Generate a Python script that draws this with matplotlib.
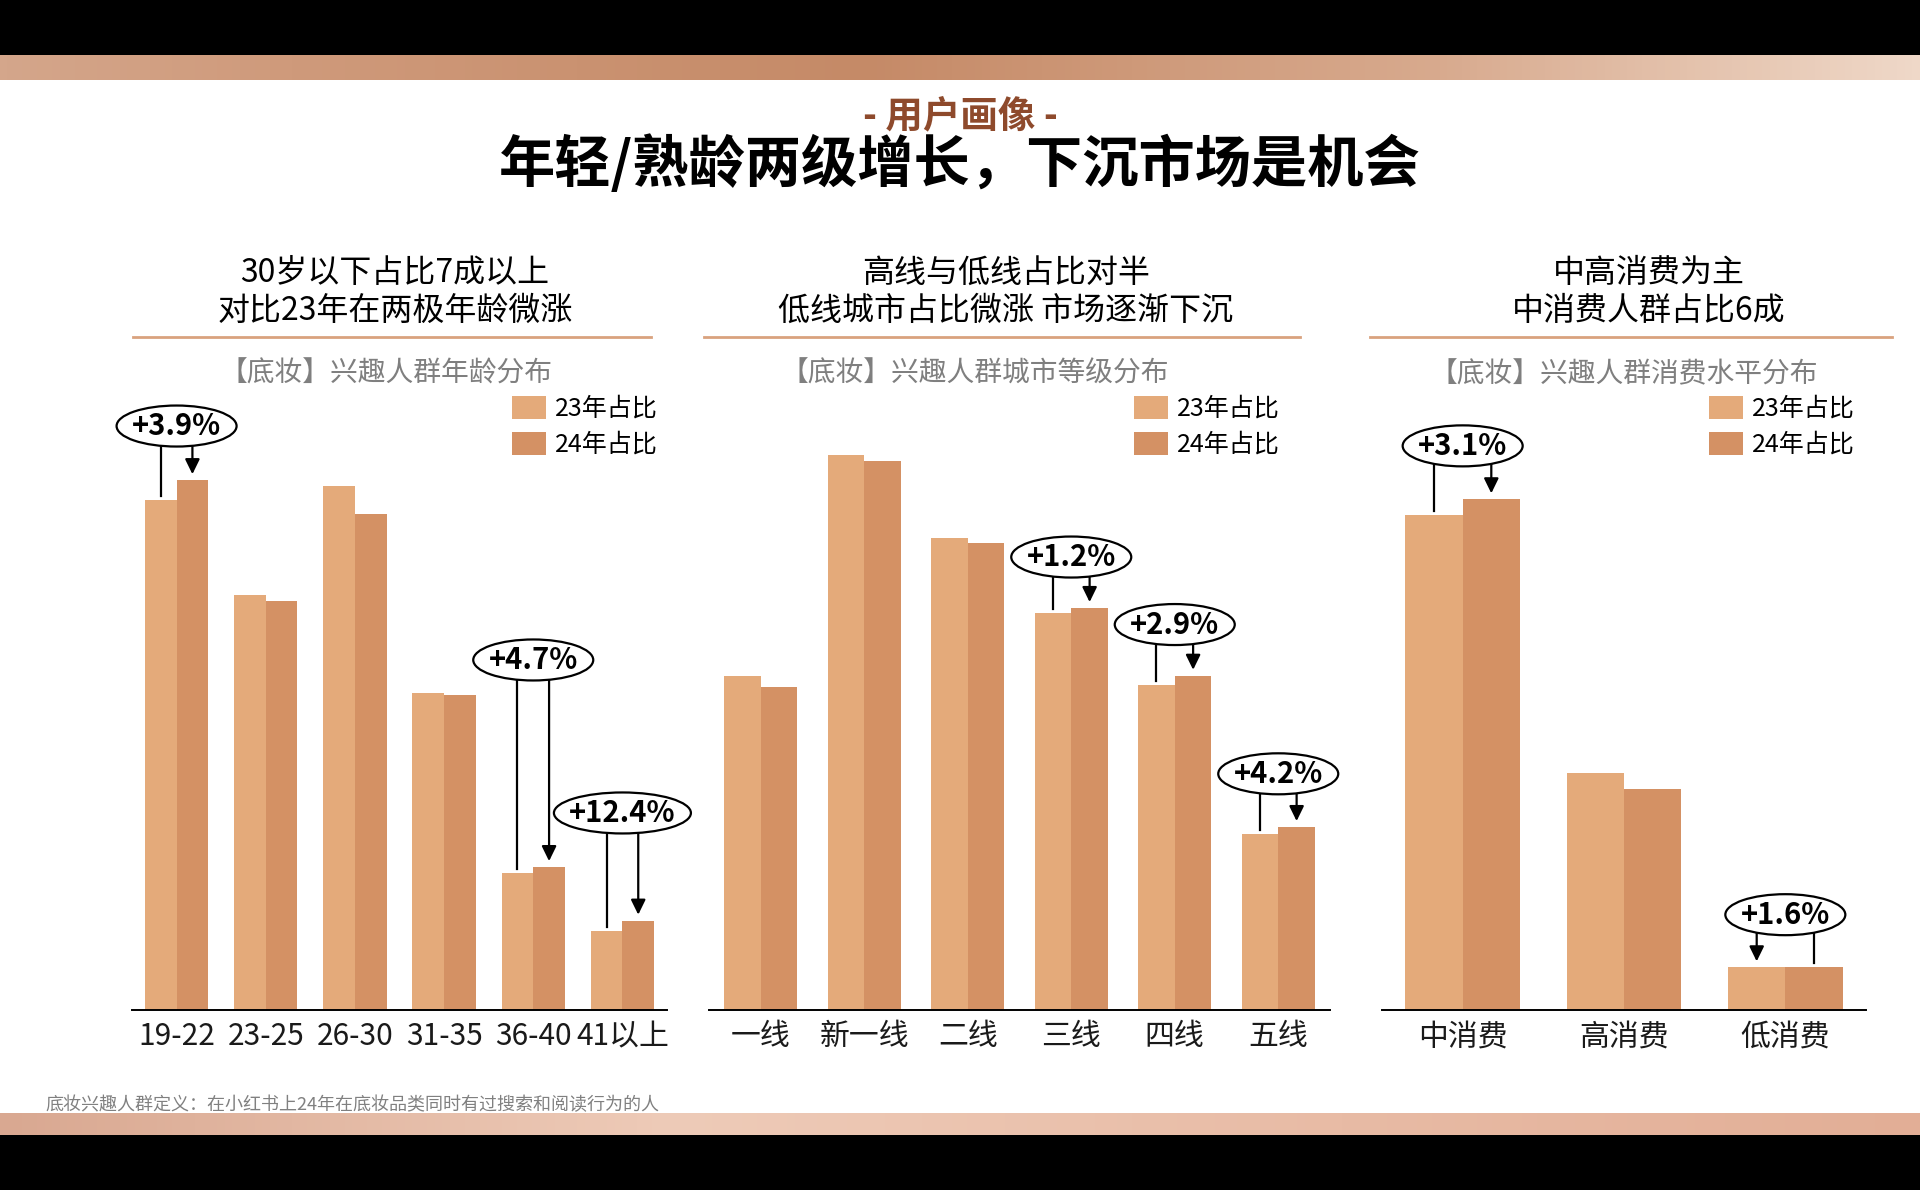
import matplotlib
matplotlib.use("Agg")
import matplotlib.pyplot as plt
import numpy as np
from matplotlib.patches import Ellipse, Rectangle
from matplotlib.lines import Line2D
from matplotlib.colors import LinearSegmentedColormap

plt.rcParams['font.family'] = ['Noto Sans CJK SC', 'DejaVu Sans']

# ---- data (percent share) ----
age_groups = ['19-22', '23-25', '26-30', '31-35', '36-40', '41以上']
age_23 = [25.7, 20.9, 26.4, 16.0, 6.9, 4.0]
age_24 = [26.7, 20.6, 25.0, 15.9, 7.2, 4.5]
age_callout_idx = [0, 4, 5]
age_callout_txt = ['+3.9%', '+4.7%', '+12.4%']

city_tiers = ['一线', '新一线', '二线', '三线', '四线', '五线']
city_23 = [14.8, 24.6, 20.9, 17.6, 14.4, 7.8]
city_24 = [14.3, 24.3, 20.7, 17.8, 14.8, 8.1]
city_callout_idx = [3, 4, 5]
city_callout_txt = ['+1.2%', '+2.9%', '+4.2%']

spend_levels = ['中消费', '高消费', '低消费']
spend_23 = [63.9, 30.6, 5.5]
spend_24 = [65.9, 28.5, 5.6]
spend_callout_idx = [0, 2]
spend_callout_txt = ['+3.1%', '+1.6%']

legend_labels = ['23年占比', '24年占比']

headlines = [
    ('30岁以下占比7成以上', '对比23年在两极年龄微涨'),
    ('高线与低线占比对半', '低线城市占比微涨 市场逐渐下沉'),
    ('中高消费为主', '中消费人群占比6成'),
]
chart_titles = ['【底妆】兴趣人群年龄分布', '【底妆】兴趣人群城市等级分布', '【底妆】兴趣人群消费水平分布']

# ---- style / layout ----
W, H = 1920, 1190
C23 = '#E4AA7A'
C24 = '#D49164'
LINE_C = '#D9A27E'
BASE_Y, TOP_Y = 1010, 380


def fx(x):
    return x / W


def fy(y):
    return 1 - y / H


fig = plt.figure(figsize=(W / 100, H / 100), dpi=100, facecolor='black')
fig.patches.append(Rectangle((0, fy(1113)), 1, (1113 - 80) / H, transform=fig.transFigure,
                             facecolor='white', edgecolor='none', zorder=-10))

# copper bands
top_cmap = LinearSegmentedColormap.from_list('top', [(0, '#D4A68B'), (0.15, '#CF9A7B'), (0.45, '#C58A67'),
                                                      (0.75, '#D8AA8E'), (1, '#EFD8C8')])
bot_cmap = LinearSegmentedColormap.from_list('bot', [(0, '#D9A891'), (0.35, '#EECBB8'), (0.7, '#E8BBA5'),
                                                      (1, '#E2AE96')])
grad = np.linspace(0, 1, 256).reshape(1, -1)
for y0, y1, cm in [(55, 80, top_cmap), (1113, 1135, bot_cmap)]:
    bax = fig.add_axes([0, fy(y1), 1, (y1 - y0) / H])
    bax.imshow(grad, aspect='auto', cmap=cm)
    bax.axis('off')

fig.text(0.5, fy(116), '- 用户画像 -', ha='center', va='center', fontsize=27, fontweight='bold', color='#8E4A2C')
fig.text(0.5, fy(165), '年轻/熟龄两级增长，下沉市场是机会', ha='center', va='center', fontsize=40.5,
         fontweight='heavy', color='black')

panels = [
    dict(left=132, right=667, ymax=31.75, line=(133, 651), head_x=395, title_x=386, leg_x=512,
         cats=age_groups, v23=age_23, v24=age_24, idx=age_callout_idx, txt=age_callout_txt,
         cy=[29.43, 17.64, 9.93], arrow_left=[False, False, False]),
    dict(left=709, right=1330, ymax=27.9, line=(704, 1300), head_x=1006, title_x=975, leg_x=1134,
         cats=city_tiers, v23=city_23, v24=city_24, idx=city_callout_idx, txt=city_callout_txt,
         cy=[20.06, 17.07, 10.46], arrow_left=[False, False, False]),
    dict(left=1382, right=1866, ymax=81.3, line=(1370, 1892), head_x=1649, title_x=1624, leg_x=1709,
         cats=spend_levels, v23=spend_23, v24=spend_24, idx=spend_callout_idx, txt=spend_callout_txt,
         cy=[72.8, 12.3], arrow_left=[False, True]),
]

bw = 0.355
for k, p in enumerate(panels):
    n = len(p['cats'])
    ax = fig.add_axes([fx(p['left']), fy(BASE_Y), (p['right'] - p['left']) / W, (BASE_Y - TOP_Y) / H])
    ax.set_facecolor('none')
    x = np.arange(n)
    b23 = ax.bar(x - bw / 2, p['v23'], bw, color=C23, zorder=2)
    b24 = ax.bar(x + bw / 2, p['v24'], bw, color=C24, zorder=2)
    ax.set_xlim(-0.5, n - 0.5)
    ax.set_ylim(0, p['ymax'])
    ax.set_yticks([])
    ax.set_xticks(x, p['cats'], fontsize=21.5, color='#1a1a1a')
    ax.tick_params(axis='x', length=0, pad=8)
    for s in ['top', 'right', 'left']:
        ax.spines[s].set_visible(False)
    ax.spines['bottom'].set_linewidth(1.4)

    px_x = (p['right'] - p['left']) / n
    px_y = (BASE_Y - TOP_Y) / p['ymax']

    for i, t, cy, al in zip(p['idx'], p['txt'], p['cy'], p['arrow_left']):
        w_px, h_px = 17 * len(t) + 35, 41
        a, b = w_px / 2, h_px / 2
        ax.add_patch(Ellipse((i, cy), w_px / px_x, h_px / px_y, facecolor='white', edgecolor='black',
                             lw=1.6, zorder=4, clip_on=False))
        ax.text(i, cy, t, ha='center', va='center', fontsize=21, fontweight='bold', zorder=5, clip_on=False)
        for dx, val, is_arrow in [(-bw / 2, p['v23'][i], al), (bw / 2, p['v24'][i], not al)]:
            ddx = dx * px_x
            y_start = cy - b * np.sqrt(max(0, 1 - (ddx / a) ** 2)) / px_y
            if is_arrow:
                ax.annotate('', xy=(i + dx, val + 6 / px_y), xytext=(i + dx, y_start),
                            arrowprops=dict(arrowstyle='-|>,head_length=0.45,head_width=0.22',
                                            color='black', lw=1.6, shrinkA=0, shrinkB=0,
                                            mutation_scale=20), zorder=3, annotation_clip=False)
            else:
                ax.plot([i + dx, i + dx], [y_start, val + 4 / px_y], color='black', lw=1.6, zorder=3,
                        clip_on=False)

    ax.legend([b23, b24], legend_labels, loc='upper left', bbox_to_anchor=(fx(p['leg_x']), fy(396)),
              bbox_transform=fig.transFigure, frameon=False, fontsize=18, handlelength=1.36,
              handleheight=1.0, handletextpad=0.36, labelspacing=0.4, borderpad=0, borderaxespad=0)

    fig.text(fx(p['head_x']), fy(273), headlines[k][0], ha='center', va='center', fontsize=23, color='black')
    fig.text(fx(p['head_x']), fy(311), headlines[k][1], ha='center', va='center', fontsize=23, color='black')
    fig.add_artist(Line2D([fx(p['line'][0]), fx(p['line'][1])], [fy(337), fy(337)], color=LINE_C, lw=2))
    fig.text(fx(p['title_x']), fy(374), chart_titles[k], ha='center', va='center', fontsize=20, color='#7F7F7F')

fig.text(fx(45), fy(1105), '底妆兴趣人群定义：在小红书上24年在底妆品类同时有过搜索和阅读行为的人',
         ha='left', va='center', fontsize=13, color='#808080')

fig.savefig('out.png', dpi=100, facecolor='black')
